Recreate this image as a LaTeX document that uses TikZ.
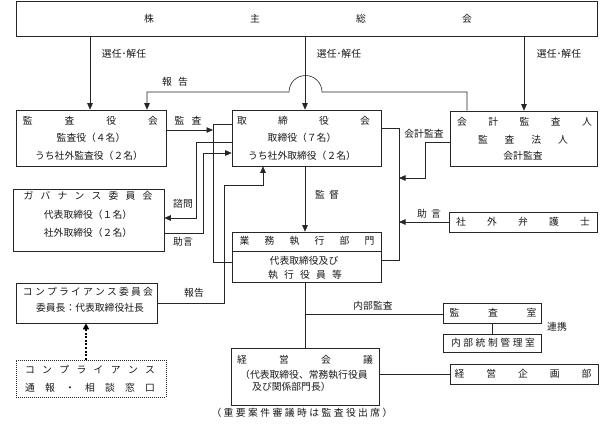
\documentclass[tikz,border=0pt]{standalone}
\usepackage{fontspec}
\setmainfont{Noto Sans CJK JP}
\usetikzlibrary{arrows.meta}
\tikzset{
  box/.style={draw=black!85, line width=0.6pt, inner sep=0pt, rectangle},
  dotbox/.style={box, dash pattern=on 1pt off 1pt},
  ln/.style={draw=black!85, line width=0.6pt},
  arr/.style={ln, -{Triangle[length=6.5pt,width=5.5pt]}},
  dotarr/.style={draw=black, line width=2.2pt, dash pattern=on 2pt off 1.6pt, -{Triangle[length=6pt,width=6pt]}},
  txt/.style={inner sep=0pt, font=\fontsize{9.8}{11}\selectfont, text=black!90},
}
\newcommand\spr[2]{\makebox[#1pt]{#2}}
\begin{document}
\begin{tikzpicture}[x=1pt,y=-1pt]
\useasboundingbox (0,0) rectangle (602,437);
\fill[white] (0,0) rectangle (602,437);
% boxes
\node[box, minimum width=581pt, minimum height=34.5pt] (kabu) at (306.5,18.75) {};
\node[box, minimum width=150pt, minimum height=56pt] (kansa) at (91,138) {};
\node[box, minimum width=149pt, minimum height=56pt] (tori) at (306.5,138) {};
\node[box, minimum width=147pt, minimum height=55pt] (kaikei) at (523.5,138.5) {};
\node[box, minimum width=151pt, minimum height=62pt] (gov) at (88.5,220) {};
\node[box, minimum width=149pt, minimum height=50pt] (gyomu) at (306.5,257) {};
\node[box, minimum width=148pt, minimum height=20pt] (bengo) at (523,222) {};
\node[box, minimum width=141pt, minimum height=40pt] (comp) at (86.5,303) {};
\node[dotbox, minimum width=150pt, minimum height=37pt] (mado) at (91,378.5) {};
\node[box, minimum width=98pt, minimum height=20pt] (kshitsu) at (492,313) {};
\node[box, minimum width=98pt, minimum height=18pt] (naibu) at (492,343) {};
\node[box, minimum width=148pt, minimum height=57pt] (kaigi) at (305,376.5) {};
\node[box, minimum width=148pt, minimum height=20pt] (kikaku) at (524,374) {};
% divider in gyomu
\coordinate (dv) at (0,251);
\draw[ln] (gyomu.west |- dv) -- (gyomu.east |- dv);
% texts
\node[txt] (t-kabu) at (308,18.5) {\spr{328}{株\hfill 主\hfill 総\hfill 会}};
\node[txt] (t-kansa1) at (90.5,121) {\spr{135}{監\hfill 査\hfill 役\hfill 会}};
\node[txt] (t-kansa2) at (91,138) {監査役（４名）};
\node[txt] (t-kansa3) at (89,156) {うち社外監査役（２名）};
\node[txt] (t-tori1) at (303.5,121) {\spr{133}{取\hfill 締\hfill 役\hfill 会}};
\node[txt] (t-tori2) at (302,138) {取締役（７名）};
\node[txt] (t-tori3) at (302,156) {うち社外取締役（２名）};
\node[txt] (t-kai1) at (524.5,122) {\spr{135}{会\hfill 計\hfill 監\hfill 査\hfill 人}};
\node[txt] (t-kai2) at (523,140) {\spr{90}{監\hfill 査\hfill 法\hfill 人}};
\node[txt] (t-kai3) at (523,156) {会計監査};
\node[txt] (t-gov1) at (88,196) {\spr{129}{ガ\hfill バ\hfill ナ\hfill ン\hfill ス\hfill 委\hfill 員\hfill 会}};
\node[txt] (t-gov2) at (88,215) {代表取締役（１名）};
\node[txt] (t-gov3) at (88,233) {社外取締役（２名）};
\node[txt] (t-gyo1) at (307,241) {\spr{135}{業\hfill 務\hfill 執\hfill 行\hfill 部\hfill 門}};
\node[txt] (t-gyo2) at (304,261) {代表取締役及び};
\node[txt] (t-gyo3) at (305,275) {\spr{74}{執\hfill 行\hfill 役\hfill 員\hfill 等}};
\node[txt] (t-bengo) at (523,222) {\spr{134}{社\hfill 外\hfill 弁\hfill 護\hfill 士}};
\node[txt] (t-comp1) at (88,292) {\spr{130}{コ\hfill ン\hfill プ\hfill ラ\hfill イ\hfill ア\hfill ン\hfill ス\hfill 委\hfill 員\hfill 会}};
\node[txt] (t-comp2) at (90,308) {委員長：代表取締役社長};
\node[txt] (t-mado1) at (90,370) {\spr{130}{コ\hfill ン\hfill プ\hfill ラ\hfill イ\hfill ア\hfill ン\hfill ス}};
\node[txt] (t-mado2) at (90,388) {\spr{130}{通\hfill 報\hfill ・\hfill 相\hfill 談\hfill 窓\hfill 口}};
\node[txt] (t-ksh) at (493,313) {\spr{87}{監\hfill 査\hfill 室}};
\node[txt] (t-naibu) at (493,343) {\spr{84}{内\hfill 部\hfill 統\hfill 制\hfill 管\hfill 理\hfill 室}};
\node[txt] (t-kaigi1) at (305,360) {\spr{136}{経\hfill 営\hfill 会\hfill 議}};
\node[txt, anchor=west] (t-kaigi2) at (240,375) {（代表取締役、常務執行役員};
\node[txt, anchor=west] (t-kaigi3) at (252,387) {及び関係部門長）};
\node[txt] (t-kaigi4) at (302,413) {\spr{181}{（\hfill 重\hfill 要\hfill 案\hfill 件\hfill 審\hfill 議\hfill 時\hfill は\hfill 監\hfill 査\hfill 役\hfill 出\hfill 席\hfill ）}};
\node[txt] (t-kikaku) at (523,374) {\spr{137}{経\hfill 営\hfill 企\hfill 画\hfill 部}};
% labels
\node[txt] (l-s1) at (124,54) {選任･解任};
\node[txt] (l-s2) at (339,54) {選任･解任};
\node[txt] (l-s3) at (559,54) {選任･解任};
\node[txt] (l-hok1) at (175,82) {\spr{26}{報\hfill 告}};
\node[txt] (l-kansa) at (188,121) {\spr{27}{監\hfill 査}};
\node[txt] (l-shimon) at (183,204) {諮問};
\node[txt] (l-jogen1) at (183,242) {助言};
\node[txt] (l-hok2) at (194,293) {報告};
\node[txt] (l-kantoku) at (327,195) {\spr{24}{監\hfill 督}};
\node[txt] (l-kaikei) at (424,134) {会計監査};
\node[txt] (l-jogen2) at (429,214) {\spr{24}{助\hfill 言}};
\node[txt] (l-naibu) at (373,306) {内部監査};
\node[txt] (l-renkei) at (557,327) {連携};
% connectors
\coordinate (cS1) at (90,0);
\coordinate (cS2) at (305,0);
\coordinate (cS3) at (524,0);
\draw[arr] (kabu.south -| cS1) -- (cS1 |- kansa.north);
\draw[arr] (kabu.south -| cS2) -- (cS2 |- tori.north);
\draw[arr] (kabu.south -| cS3) -- (cS3 |- kaikei.north);
% report hop
\coordinate (h1) at (467,92);
\coordinate (hopR) at (322,92);
\coordinate (h2) at (147,92);
\draw[arr] (kaikei.north -| h1) -- (h1) -- (hopR) arc[start angle=0,end angle=-180,radius=16.5] -- (h2) -- (h2 |- kansa.north);
% audit
\coordinate (kA) at (213,130);
\draw[arr] (kansa.east |- kA) -- (kA);
\coordinate (b1) at (213,124);
\coordinate (b2) at (213,262);
\draw[ln] (tori.west |- b1) -- (b1) -- (b2) -- (gyomu.west |- b2);
% consult
\coordinate (s1) at (196,142);
\coordinate (s2) at (196,218);
\draw[arr] (tori.west |- s1) -- (s1) -- (s2) -- (gov.east |- s2);
% advice
\coordinate (j1) at (203,233);
\coordinate (j2) at (203,153);
\draw[arr] (gov.east |- j1) -- (j1) -- (j2) -- (tori.west |- j2);
% compliance report
\coordinate (r1) at (224,303);
\coordinate (r2) at (224,185);
\coordinate (r3) at (263,185);
\draw[arr] (comp.east |- r1) -- (r1) -- (r2) -- (r3) -- (r3 |- tori.south);
% supervision
\draw[arr] (tori.south -| cS2) -- (cS2 |- gyomu.north);
% right bracket
\coordinate (q1) at (399,128);
\coordinate (q2) at (399,260);
\draw[ln] (tori.east |- q1) -- (q1) -- (q2) -- (gyomu.east |- q2);
\coordinate (k1) at (425,142);
\coordinate (k2) at (425,178);
\coordinate (k3) at (399,178);
\draw[arr] (kaikei.west |- k1) -- (k1) -- (k2) -- (k3);
\draw[arr] (bengo.west) -- (bengo.west -| q1);
% lower
\draw[ln] (gyomu.south -| cS2) -- (cS2 |- kaigi.north);
\coordinate (n1) at (305,314);
\draw[ln] (n1) -- (kshitsu.west |- n1);
\draw[ln] (kshitsu.south) -- (naibu.north);
\draw[ln] (kaigi.east |- kikaku.west) -- (kikaku.west);
\coordinate (d1) at (86,0);
\draw[dotarr] (mado.north -| d1) -- (d1 |- comp.south);
\end{tikzpicture}
\end{document}
